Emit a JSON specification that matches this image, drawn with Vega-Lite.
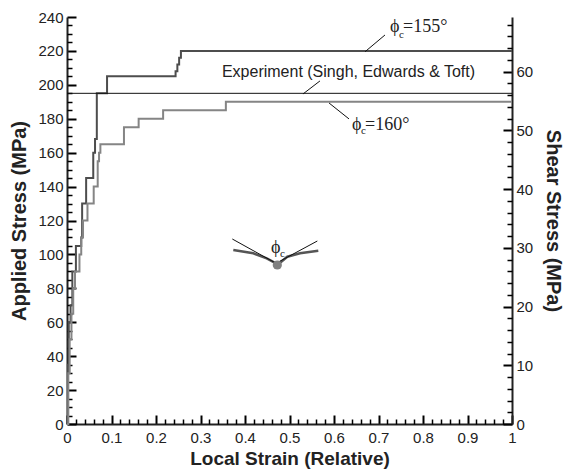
{
  "$schema": "https://vega.github.io/schema/vega-lite/v6.json",
  "width": 445,
  "height": 407,
  "autosize": {"type": "none"},
  "padding": {"left": 67, "top": 17, "right": 53, "bottom": 48},
  "background": "white",
  "config": {"view": {"stroke": null}},
  "datasets": {
    "curves": [
      {"series": "155", "strain": 0, "stress": 0},
      {"series": "155", "strain": 0.002, "stress": 35},
      {"series": "155", "strain": 0.004, "stress": 60},
      {"series": "155", "strain": 0.008, "stress": 70},
      {"series": "155", "strain": 0.012, "stress": 90},
      {"series": "155", "strain": 0.02, "stress": 105},
      {"series": "155", "strain": 0.032, "stress": 110},
      {"series": "155", "strain": 0.034, "stress": 130},
      {"series": "155", "strain": 0.043, "stress": 145},
      {"series": "155", "strain": 0.059, "stress": 160},
      {"series": "155", "strain": 0.063, "stress": 168},
      {"series": "155", "strain": 0.067, "stress": 195},
      {"series": "155", "strain": 0.09, "stress": 205},
      {"series": "155", "strain": 0.244, "stress": 208},
      {"series": "155", "strain": 0.248, "stress": 212},
      {"series": "155", "strain": 0.252, "stress": 216},
      {"series": "155", "strain": 0.256, "stress": 220},
      {"series": "155", "strain": 1, "stress": 220},
      {"series": "160", "strain": 0, "stress": 0},
      {"series": "160", "strain": 0.003, "stress": 30},
      {"series": "160", "strain": 0.006, "stress": 50},
      {"series": "160", "strain": 0.01, "stress": 65},
      {"series": "160", "strain": 0.014, "stress": 80},
      {"series": "160", "strain": 0.018, "stress": 90},
      {"series": "160", "strain": 0.028, "stress": 100},
      {"series": "160", "strain": 0.032, "stress": 110},
      {"series": "160", "strain": 0.036, "stress": 120},
      {"series": "160", "strain": 0.046, "stress": 130},
      {"series": "160", "strain": 0.06, "stress": 140},
      {"series": "160", "strain": 0.069, "stress": 155},
      {"series": "160", "strain": 0.072, "stress": 160},
      {"series": "160", "strain": 0.075, "stress": 165},
      {"series": "160", "strain": 0.128, "stress": 175},
      {"series": "160", "strain": 0.161, "stress": 180},
      {"series": "160", "strain": 0.216, "stress": 185},
      {"series": "160", "strain": 0.357, "stress": 190},
      {"series": "160", "strain": 1, "stress": 190}
    ],
    "experiment": [
      {"strain": 0, "stress": 195},
      {"strain": 1, "stress": 195}
    ],
    "leaders": [
      {"strain": 0.6697, "stress": 219.5, "strain2": 0.7146, "stress2": 229.4},
      {"strain": 0.5303, "stress": 194.6, "strain2": 0.5685, "stress2": 202.3},
      {"strain": 0.5888, "stress": 189.3, "strain2": 0.6337, "stress2": 179.9}
    ],
    "serif": [
      {"label": "ϕ", "strain": 0.7258, "stress": 234.1},
      {"label": "=155°", "strain": 0.755, "stress": 234.1},
      {"label": "ϕ", "strain": 0.6404, "stress": 176.3},
      {"label": "=160°", "strain": 0.6697, "stress": 176.3},
      {"label": "ϕ", "strain": 0.4584, "stress": 103.5}
    ],
    "subs": [
      {"label": "c", "strain": 0.746, "stress": 229.1},
      {"label": "c", "strain": 0.6607, "stress": 172.8},
      {"label": "c", "strain": 0.4787, "stress": 100.0}
    ],
    "explabel": [
      {"label": "Experiment (Singh, Edwards & Toft)", "strain": 0.6326, "stress": 207.6}
    ],
    "schematic": [
      {"part": "L", "ord": 1, "strain": 0.3737, "stress": 102.6},
      {"part": "L", "ord": 2, "strain": 0.4187, "stress": 100.66},
      {"part": "L", "ord": 3, "strain": 0.4488, "stress": 97.71},
      {"part": "L", "ord": 4, "strain": 0.4697, "stress": 94.76},
      {"part": "R", "ord": 1, "strain": 0.5647, "stress": 102.19},
      {"part": "R", "ord": 2, "strain": 0.5236, "stress": 100.66},
      {"part": "R", "ord": 3, "strain": 0.4951, "stress": 98.65},
      {"part": "R", "ord": 4, "strain": 0.4787, "stress": 95.12}
    ],
    "tangents": [
      {"strain": 0.3715, "stress": 109.09, "strain2": 0.4674, "stress2": 95.12},
      {"strain": 0.5625, "stress": 107.91, "strain2": 0.4764, "stress2": 95.71}
    ],
    "dot": [
      {"strain": 0.4726, "stress": 93.76}
    ],
    "anchor": [
      {"strain": 0, "stress": 0, "shear": 0}
    ]
  },
  "layer": [
    {
      "data": {"name": "anchor"},
      "mark": {"type": "point", "opacity": 0},
      "encoding": {
        "x": {
          "field": "strain", "type": "quantitative",
          "scale": {"domain": [0, 1], "nice": false},
          "axis": {
            "title": "Local Strain (Relative)",
            "orient": "bottom",
            "values": [0, 0.1, 0.2, 0.3, 0.4, 0.5, 0.6, 0.7, 0.8, 0.9, 1],
            "format": ".1~f",
            "gridOpacity": 0,
            "tickSize": -9, "tickWidth": 2, "tickColor": "black",
            "domainColor": "#222", "domainWidth": 2,
            "labelOverlap": false, "labelFlush": false,
            "labelFont": "Liberation Sans", "labelFontSize": 15, "labelColor": "#222",
            "labelPadding": 15,
            "titleFont": "Liberation Sans", "titleFontSize": 19, "titleFontWeight": "bold", "titleColor": "#222",
            "titlePadding": 4
          }
        },
        "y": {
          "field": "stress", "type": "quantitative",
          "scale": {"domain": [0, 240], "nice": false},
          "axis": {
            "title": "Applied Stress (MPa)",
            "orient": "left",
            "values": [0, 20, 40, 60, 80, 100, 120, 140, 160, 180, 200, 220, 240],
            "gridOpacity": 0,
            "tickSize": -9, "tickWidth": 2, "tickColor": "black",
            "domainColor": "#222", "domainWidth": 2,
            "labelOverlap": false, "labelFlush": false,
            "labelFont": "Liberation Sans", "labelFontSize": 15, "labelColor": "#222",
            "labelPadding": 13,
            "titleFont": "Liberation Sans", "titleFontSize": 20, "titleFontWeight": "bold", "titleColor": "#222",
            "titlePadding": 8
          }
        }
      }
    },
    {
      "data": {"name": "anchor"},
      "mark": {"type": "point", "opacity": 0},
      "encoding": {
        "x": {
          "field": "strain", "type": "quantitative",
          "scale": {"domain": [0, 1], "nice": false},
          "axis": {
            "title": null, "orient": "bottom",
            "values": [0.02,0.04,0.06,0.08,0.12,0.14,0.16,0.18,0.22,0.24,0.26,0.28,0.32,0.34,0.36,0.38,0.42,0.44,0.46,0.48,0.52,0.54,0.56,0.58,0.62,0.64,0.66,0.68,0.72,0.74,0.76,0.78,0.82,0.84,0.86,0.88,0.92,0.94,0.96,0.98],
            "gridOpacity": 0, "labels": false, "domain": false,
            "tickSize": -5, "tickWidth": 1.5, "tickColor": "black"
          }
        },
        "y": {
          "field": "stress", "type": "quantitative",
          "scale": {"domain": [0, 240], "nice": false},
          "axis": {
            "title": null, "orient": "left",
            "values": [5,10,15,25,30,35,45,50,55,65,70,75,85,90,95,105,110,115,125,130,135,145,150,155,165,170,175,185,190,195,205,210,215,225,230,235],
            "gridOpacity": 0, "labels": false, "domain": false,
            "tickSize": -5, "tickWidth": 1.5, "tickColor": "black"
          }
        }
      }
    },
    {
      "data": {"name": "anchor"},
      "mark": {"type": "point", "opacity": 0},
      "encoding": {
        "y": {
          "field": "shear", "type": "quantitative",
          "scale": {"domain": [0, 69.28], "nice": false},
          "axis": {
            "title": "Shear Stress (MPa)",
            "orient": "right",
            "values": [0, 10, 20, 30, 40, 50, 60],
            "gridOpacity": 0,
            "tickSize": -9, "tickWidth": 2, "tickColor": "black",
            "domainColor": "#222", "domainWidth": 2,
            "labelOverlap": false, "labelFlush": false,
            "labelFont": "Liberation Sans", "labelFontSize": 15, "labelColor": "#222",
            "labelPadding": 13,
            "titleFont": "Liberation Sans", "titleFontSize": 20, "titleFontWeight": "bold", "titleColor": "#222",
            "titlePadding": 10
          }
        }
      }
    },
    {
      "data": {"name": "anchor"},
      "mark": {"type": "point", "opacity": 0},
      "encoding": {
        "y": {
          "field": "shear", "type": "quantitative",
          "scale": {"domain": [0, 69.28], "nice": false},
          "axis": {
            "title": null, "orient": "right",
            "values": [2,4,6,8,12,14,16,18,22,24,26,28,32,34,36,38,42,44,46,48,52,54,56,58,62,64,66,68],
            "gridOpacity": 0, "labels": false, "domain": false,
            "tickSize": -5, "tickWidth": 1.5, "tickColor": "black"
          }
        }
      }
    },
    {
      "data": {"name": "curves"},
      "mark": {"type": "line", "interpolate": "step-after", "strokeWidth": 2},
      "encoding": {
        "x": {"field": "strain", "type": "quantitative", "scale": {"domain": [0, 1], "nice": false}, "axis": null},
        "y": {"field": "stress", "type": "quantitative", "scale": {"domain": [0, 240], "nice": false}, "axis": null},
        "color": {
          "field": "series", "type": "nominal",
          "scale": {"domain": ["155", "160"], "range": ["#4d4d4d", "#858585"]},
          "legend": null
        }
      }
    },
    {
      "data": {"name": "experiment"},
      "mark": {"type": "line", "color": "#111", "strokeWidth": 1},
      "encoding": {
        "x": {"field": "strain", "type": "quantitative", "scale": {"domain": [0, 1], "nice": false}, "axis": null},
        "y": {"field": "stress", "type": "quantitative", "scale": {"domain": [0, 240], "nice": false}, "axis": null}
      }
    },
    {
      "data": {"name": "leaders"},
      "mark": {"type": "rule", "color": "#111", "strokeWidth": 1},
      "encoding": {
        "x": {"field": "strain", "type": "quantitative", "scale": {"domain": [0, 1], "nice": false}, "axis": null},
        "y": {"field": "stress", "type": "quantitative", "scale": {"domain": [0, 240], "nice": false}, "axis": null},
        "x2": {"field": "strain2"},
        "y2": {"field": "stress2"}
      }
    },
    {
      "data": {"name": "serif"},
      "mark": {"type": "text", "font": "Liberation Serif", "fontSize": 18, "align": "left", "baseline": "middle", "color": "#222"},
      "encoding": {
        "x": {"field": "strain", "type": "quantitative", "scale": {"domain": [0, 1], "nice": false}, "axis": null},
        "y": {"field": "stress", "type": "quantitative", "scale": {"domain": [0, 240], "nice": false}, "axis": null},
        "text": {"field": "label"}
      }
    },
    {
      "data": {"name": "subs"},
      "mark": {"type": "text", "font": "Liberation Serif", "fontSize": 11, "align": "left", "baseline": "middle", "color": "#222"},
      "encoding": {
        "x": {"field": "strain", "type": "quantitative", "scale": {"domain": [0, 1], "nice": false}, "axis": null},
        "y": {"field": "stress", "type": "quantitative", "scale": {"domain": [0, 240], "nice": false}, "axis": null},
        "text": {"field": "label"}
      }
    },
    {
      "data": {"name": "explabel"},
      "mark": {"type": "text", "font": "Liberation Sans", "fontSize": 16, "align": "center", "baseline": "middle", "color": "#222"},
      "encoding": {
        "x": {"field": "strain", "type": "quantitative", "scale": {"domain": [0, 1], "nice": false}, "axis": null},
        "y": {"field": "stress", "type": "quantitative", "scale": {"domain": [0, 240], "nice": false}, "axis": null},
        "text": {"field": "label"}
      }
    },
    {
      "data": {"name": "schematic"},
      "mark": {"type": "line", "color": "#555", "strokeWidth": 2.5},
      "encoding": {
        "x": {"field": "strain", "type": "quantitative", "scale": {"domain": [0, 1], "nice": false}, "axis": null},
        "y": {"field": "stress", "type": "quantitative", "scale": {"domain": [0, 240], "nice": false}, "axis": null},
        "detail": {"field": "part"},
        "order": {"field": "ord"}
      }
    },
    {
      "data": {"name": "tangents"},
      "mark": {"type": "rule", "color": "#111", "strokeWidth": 1},
      "encoding": {
        "x": {"field": "strain", "type": "quantitative", "scale": {"domain": [0, 1], "nice": false}, "axis": null},
        "y": {"field": "stress", "type": "quantitative", "scale": {"domain": [0, 240], "nice": false}, "axis": null},
        "x2": {"field": "strain2"},
        "y2": {"field": "stress2"}
      }
    },
    {
      "data": {"name": "dot"},
      "mark": {"type": "point", "filled": true, "color": "#808080", "size": 85, "opacity": 1},
      "encoding": {
        "x": {"field": "strain", "type": "quantitative", "scale": {"domain": [0, 1], "nice": false}, "axis": null},
        "y": {"field": "stress", "type": "quantitative", "scale": {"domain": [0, 240], "nice": false}, "axis": null}
      }
    }
  ],
  "resolve": {
    "scale": {"x": "independent", "y": "independent"},
    "axis": {"x": "independent", "y": "independent"}
  }
}
